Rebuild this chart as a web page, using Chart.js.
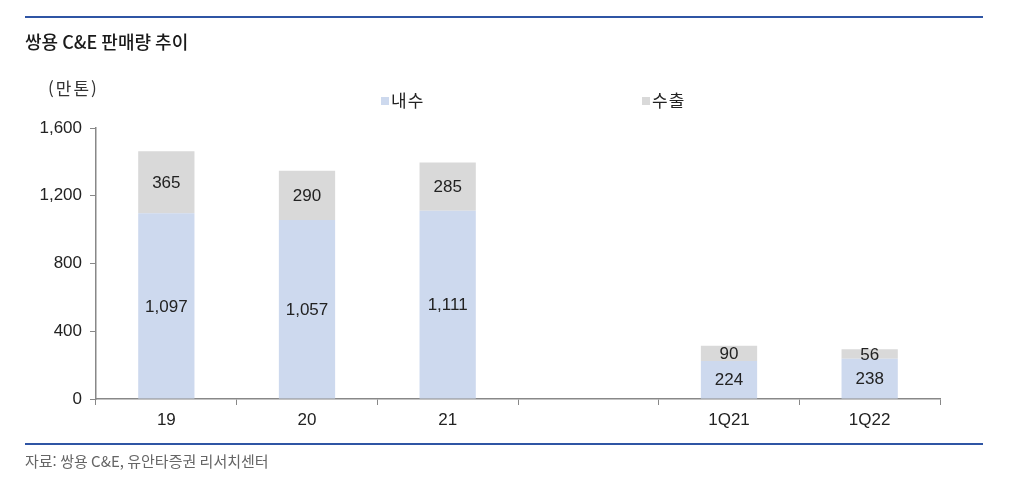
<html lang="ko">
<head>
  <meta charset="UTF-8">
  <title>쌍용 C&E 판매량 추이</title>
  <script src="https://cdn.jsdelivr.net/npm/chart.js"></script>
  <style>
    body, html {
      margin: 0;
      padding: 0;
      background-color: #ffffff;
    }
    #wrap {
      width: 1012px;
      height: 478px;
      position: relative;
    }
  </style>
</head>
<body>
  <div id="wrap"><canvas id="myChart" width="1012" height="478"></canvas></div>

  <script>
    const categories = ['19', '20', '21', '', '1Q21', '1Q22'];
    const domestic = [1097, 1057, 1111, null, 224, 238];
    const exportVol = [365, 290, 285, null, 90, 56];
    const yTicks = [0, 400, 800, 1200, 1600];

    const FONT = '"Liberation Sans", Arial, "Noto Sans CJK KR", sans-serif';
    const KFONT = '"Noto Sans CJK KR", "Liberation Sans", sans-serif';

    // frame: blue lines, title, unit, legend, source
    Chart.register({
      id: 'frame',
      afterDraw(chart) {
        const { ctx } = chart;
        ctx.save();
        ctx.fillStyle = '#2f55a4';
        ctx.fillRect(25, 16, 958, 2);
        ctx.fillRect(25, 443, 958, 2);

        ctx.fillStyle = '#1a1a1a';
        ctx.font = '500 18px ' + KFONT;
        ctx.textBaseline = 'middle';
        ctx.textAlign = 'left';
        ctx.fillText('쌍용 C&E 판매량 추이', 25, 42);

        ctx.fillStyle = '#333';
        ctx.font = '17px ' + KFONT;
        ctx.letterSpacing = '2px';
        ctx.fillText('(만톤)', 48, 89);
        ctx.letterSpacing = '1px';

        // legend
        const items = [
          { label: '내수', color: '#cdd9ee', x: 381 },
          { label: '수출', color: '#d9d9d9', x: 642 }
        ];
        items.forEach(it => {
          ctx.fillStyle = it.color;
          ctx.fillRect(it.x, 97, 8, 8);
          ctx.fillStyle = '#222';
          ctx.fillText(it.label, it.x + 10, 101);
        });

        ctx.letterSpacing = '0px';
        ctx.fillStyle = '#666';
        ctx.font = '15px ' + KFONT;
        ctx.fillText('자료: 쌍용 C&E, 유안타증권 리서치센터', 25, 461);
        ctx.restore();
      }
    },
    {
      id: 'segLabels',
      afterDatasetsDraw(chart) {
        const { ctx } = chart;
        ctx.save();
        ctx.fillStyle = '#222';
        ctx.font = '17px ' + FONT;
        ctx.textAlign = 'center';
        ctx.textBaseline = 'middle';
        chart.data.datasets.forEach((ds, i) => {
          const meta = chart.getDatasetMeta(i);
          meta.data.forEach((bar, j) => {
            const v = ds.data[j];
            if (v == null) return;
            const y = (bar.y + bar.base) / 2;
            ctx.fillText(v.toLocaleString('en-US'), bar.x, y + 1);
          });
        });
        ctx.restore();
      }
    });

    const ctx = document.getElementById('myChart').getContext('2d');
    const myChart = new Chart(ctx, {
      type: 'bar',
      data: {
        labels: categories,
        datasets: [
          {
            label: '내수',
            data: domestic,
            backgroundColor: '#cdd9ee',
            borderWidth: 0,
            barPercentage: 0.4,
            categoryPercentage: 1
          },
          {
            label: '수출',
            data: exportVol,
            backgroundColor: '#d9d9d9',
            borderWidth: 0,
            barPercentage: 0.4,
            categoryPercentage: 1
          }
        ]
      },
      options: {
        responsive: false,
        animation: false,
        layout: {
          padding: { top: 128, right: 72, bottom: 0, left: 0 }
        },
        plugins: {
          legend: { display: false },
          tooltip: { enabled: false }
        },
        scales: {
          x: {
            stacked: true,
            afterFit(scale) { scale.height = 79; },
            grid: {
              offset: true,
              drawOnChartArea: false,
              drawTicks: true,
              tickLength: 6,
              color: '#888'
            },
            border: { color: '#888', width: 1.5 },
            ticks: {
              color: '#222',
              padding: 5,
              font: { family: FONT, size: 17 }
            }
          },
          y: {
            stacked: true,
            min: 0,
            max: 1600,
            afterFit(scale) { scale.width = 96; },
            afterBuildTicks(scale) {
              scale.ticks = yTicks.map(v => ({ value: v }));
            },
            grid: {
              drawOnChartArea: false,
              drawTicks: true,
              tickLength: 6,
              color: '#888'
            },
            border: { color: '#888', width: 1.5 },
            ticks: {
              color: '#222',
              padding: 8,
              font: { family: FONT, size: 17 },
              callback: v => v.toLocaleString('en-US')
            }
          }
        }
      }
    });
  </script>
</body>
</html>
